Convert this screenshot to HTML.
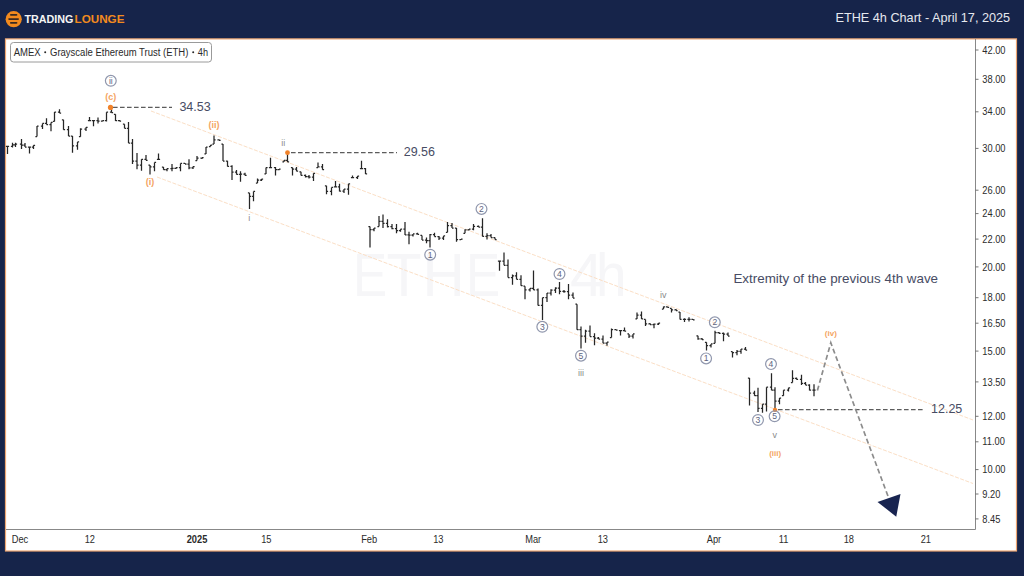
<!DOCTYPE html>
<html><head><meta charset="utf-8"><style>
html,body{margin:0;padding:0;}
body{width:1024px;height:576px;background:#16244a;position:relative;overflow:hidden;font-family:"Liberation Sans",sans-serif;}
svg{position:absolute;left:0;top:0;}
</style></head><body>
<svg width="1024" height="38" viewBox="0 0 1024 38">
  <circle cx="13.7" cy="19.2" r="8.1" fill="#f28a1e"/>
  <rect x="10" y="14.1" width="7.4" height="1.7" rx="0.8" fill="#3a2a22"/>
  <rect x="8.2" y="18.2" width="10.8" height="1.7" rx="0.8" fill="#3a2a22"/>
  <rect x="10" y="22" width="7.4" height="1.7" rx="0.8" fill="#3a2a22"/>
  <text x="24.5" y="22.8" font-size="10" font-weight="700" fill="#f4f4f4" textLength="49" lengthAdjust="spacingAndGlyphs">TRADING</text>
  <text x="74.5" y="22.8" font-size="10" font-weight="700" fill="#f28a1e" textLength="50" lengthAdjust="spacingAndGlyphs">LOUNGE</text>
  <text x="835.5" y="22.4" font-size="13" fill="#e6e9ef" textLength="174.6" lengthAdjust="spacingAndGlyphs">ETHE 4h Chart - April 17, 2025</text>
</svg>
<svg width="1024" height="576" viewBox="0 0 1024 576">
  <rect x="5.5" y="38.9" width="1011" height="512.1" fill="#fff" stroke="#eea672" stroke-width="1.2"/>
  <g font-size="61" fill="#f6f6f8">
    <text transform="translate(353,295.8) scale(0.84,1)">E</text>
    <text transform="translate(386.5,295.8) scale(0.94,1)">T</text>
    <text transform="translate(422.5,295.8) scale(0.96,1)">H</text>
    <text transform="translate(466,295.8) scale(0.84,1)">E</text>
    <text transform="translate(570,295.8) scale(0.98,1)">4</text>
    <text transform="translate(596,295.8) scale(0.9,1)">h</text>
  </g>
  <g stroke="#fbdfc6" stroke-width="1" stroke-dasharray="4 1.5" fill="none">
    <line x1="151" y1="111" x2="973" y2="420"/>
    <line x1="157" y1="177" x2="973" y2="483.5"/>
  </g>
  <rect x="10.5" y="42.5" width="201" height="19.5" rx="3" fill="#fff" stroke="#9a9a9a" stroke-width="1"/>
  <g font-size="10" fill="#2a2a2a">
    <text x="13.7" y="55.5" textLength="27" lengthAdjust="spacingAndGlyphs">AMEX</text>
    <circle cx="45.2" cy="52.3" r="1"/>
    <text x="50" y="55.5" textLength="138.4" lengthAdjust="spacingAndGlyphs">Grayscale Ethereum Trust (ETH)</text>
    <circle cx="193.2" cy="52.3" r="1"/>
    <text x="197.8" y="55.5" textLength="10.2" lengthAdjust="spacingAndGlyphs">4h</text>
  </g>
  <path d="M7.5 146.4V154.0M5.9 146.4H7.5M7.5 146.4H9.1M12.5 142.7V147.4M10.9 146.4H12.5M12.5 144.8H14.1M15.5 142.7V147.0M13.9 144.8H15.5M15.5 144.0H17.1M21.5 139.0V149.0M19.9 144.0H21.5M21.5 145.0H23.1M25.0 143.0V147.0M23.4 145.0H25.0M25.0 147.0H26.6M29.5 146.4V153.6M27.9 147.0H29.5M29.5 147.2H31.1M33.5 145.3V149.0M31.9 147.2H33.5M33.5 145.3H35.1M37.0 126.0V136.5M35.4 136.5H37.0M37.0 126.2H38.6M42.5 123.4V129.0M40.9 126.2H42.5M42.5 123.4H44.1M46.5 118.2V124.5M44.9 123.4H46.5M46.5 124.5H48.1M51.0 122.4V131.2M49.4 124.5H51.0M51.0 122.4H52.6M54.5 112.0V121.4M52.9 121.4H54.5M54.5 112.0H56.1M59.5 109.2V113.0M57.9 112.0H59.5M59.5 113.0H61.1M63.5 119.8V129.7M61.9 119.8H63.5M63.5 129.7H65.1M68.5 126.0V136.0M66.9 129.7H68.5M68.5 136.0H70.1M72.5 136.1V152.8M70.9 136.1H72.5M72.5 145.8H74.1M77.5 141.9V149.7M75.9 145.8H77.5M77.5 141.9H79.1M80.5 128.3V136.7M78.9 136.7H80.5M80.5 129.2H82.1M86.0 127.3V131.0M84.4 129.2H86.0M86.0 127.3H87.6M89.5 116.9V120.5M87.9 120.5H89.5M89.5 120.5H91.1M93.5 120.0V126.2M91.9 120.5H93.5M93.5 120.5H95.1M98.0 117.4V123.6M96.4 120.5H98.0M98.0 121.0H99.6M102.5 120.5V121.6M100.9 121.0H102.5M102.5 120.5H104.1M106.5 112.2V121.6M104.9 120.5H106.5M106.5 112.2H108.1M111.5 108.0V112.7M109.9 112.2H111.5M111.5 112.7H113.1M115.5 114.3V121.0M113.9 114.3H115.5M115.5 120.5H117.1M119.5 120.0V121.0M117.9 120.5H119.5M119.5 121.0H121.1M124.5 124.2V128.3M122.9 124.2H124.5M124.5 128.3H126.1M128.5 122.0V143.0M126.9 128.3H128.5M128.5 143.0H130.1M132.5 138.9V164.0M130.9 143.0H132.5M132.5 161.1H134.1M137.0 153.0V169.2M135.4 161.1H137.0M137.0 165.0H138.6M141.5 159.3V170.7M139.9 165.0H141.5M141.5 159.3H143.1M146.0 155.1V160.3M144.4 159.3H146.0M146.0 160.3H147.6M150.0 165.0V174.4M148.4 165.0H150.0M150.0 166.8H151.6M154.5 162.4V171.2M152.9 166.8H154.5M154.5 162.4H156.1M158.5 153.5V159.3M156.9 159.3H158.5M158.5 159.3H160.1M163.5 167.0V169.7M161.9 167.0H163.5M163.5 169.7H165.1M167.0 168.6V171.2M165.4 169.7H167.0M167.0 168.6H168.6M172.0 164.0V171.2M170.4 168.6H172.0M172.0 168.3H173.6M176.0 167.6V169.0M174.4 168.3H176.0M176.0 167.6H177.6M180.5 163.4V171.2M178.9 167.6H180.5M180.5 163.4H182.1M185.0 162.9V164.0M183.4 163.4H185.0M185.0 164.0H186.6M189.0 159.3V169.2M187.4 164.0H189.0M189.0 167.8H190.6M193.0 166.5V169.0M191.4 167.8H193.0M193.0 166.5H194.6M197.0 155.9V160.6M195.4 160.6H197.0M197.0 158.2H198.6M202.0 157.5V159.0M200.4 158.2H202.0M202.0 157.5H203.6M206.0 147.0V153.9M204.4 153.9H206.0M206.0 147.0H207.6M210.5 145.0V146.6M208.9 146.6H210.5M210.5 145.0H212.1M214.0 135.6V144.0M212.4 144.0H214.0M214.0 139.8H215.6M219.0 139.3V140.3M217.4 139.8H219.0M219.0 140.3H220.6M223.0 144.0V161.1M221.4 144.0H223.0M223.0 161.1H224.6M227.5 160.8V166.4M225.9 161.1H227.5M227.5 166.4H229.1M232.0 165.3V180.1M230.4 166.4H232.0M232.0 172.2H233.6M236.5 170.0V174.4M234.9 172.2H236.5M236.5 174.4H238.1M240.5 171.2V181.7M238.9 174.4H240.5M240.5 174.1H242.1M245.0 172.8V175.4M243.4 174.1H245.0M245.0 175.4H246.6M249.5 192.9V209.0M247.9 192.9H249.5M249.5 196.3H251.1M253.5 191.4V201.2M251.9 196.3H253.5M253.5 191.4H255.1M257.5 178.5V183.0M255.9 183.0H257.5M257.5 180.0H259.1M261.5 179.0V181.0M259.9 180.0H261.5M261.5 179.0H263.1M266.0 167.6V173.9M264.4 173.9H266.0M266.0 167.6H267.6M270.5 157.7V167.6M268.9 167.6H270.5M270.5 167.6H272.1M275.5 167.0V175.4M273.9 167.6H275.5M275.5 169.7H277.1M279.0 169.2V170.2M277.4 169.7H279.0M279.0 169.2H280.6M284.0 160.3V161.9M282.4 161.9H284.0M284.0 160.3H285.6M287.5 153.0V161.9M285.9 160.3H287.5M287.5 161.9H289.1M292.5 167.6V175.4M290.9 167.6H292.5M292.5 169.1H294.1M296.5 167.0V171.2M294.9 169.1H296.5M296.5 171.2H298.1M301.0 171.8V175.4M299.4 171.8H301.0M301.0 175.4H302.6M305.5 174.4V177.5M303.9 175.4H305.5M305.5 176.7H307.1M309.0 174.9V178.5M307.4 176.7H309.0M309.0 177.2H310.6M313.5 173.3V181.1M311.9 177.2H313.5M313.5 173.3H315.1M318.0 162.4V167.6M316.4 167.6H318.0M318.0 166.8H319.6M322.5 164.0V169.7M320.9 166.8H322.5M322.5 169.7H324.1M326.5 185.8V194.2M324.9 185.8H326.5M326.5 191.3H328.1M331.5 187.4V195.2M329.9 191.3H331.5M331.5 187.4H333.1M335.5 181.1V186.9M333.9 186.9H335.5M335.5 186.9H337.1M339.5 183.8V191.6M337.9 186.9H339.5M339.5 191.1H341.1M344.0 189.0V193.1M342.4 191.1H344.0M344.0 189.2H345.6M348.5 183.8V194.7M346.9 189.2H348.5M348.5 183.8H350.1M352.5 175.4V177.5M350.9 177.5H352.5M352.5 177.5H354.1M357.5 176.0V179.0M355.9 177.5H357.5M357.5 176.0H359.1M361.5 160.8V168.6M359.9 168.6H361.5M361.5 168.6H363.1M365.5 168.1V173.9M363.9 168.6H365.5M365.5 173.9H367.1M370.0 226.6V247.4M368.4 226.6H370.0M370.0 229.7H371.6M374.0 228.1V231.2M372.4 229.7H374.0M374.0 228.1H375.6M379.0 216.1V226.6M377.4 226.6H379.0M379.0 221.3H380.6M383.0 214.6V228.1M381.4 221.3H383.0M383.0 223.4H384.6M387.5 219.3V227.6M385.9 223.4H387.5M387.5 226.6H389.1M392.0 224.0V229.2M390.4 226.6H392.0M392.0 228.7H393.6M396.5 224.0V233.3M394.9 228.7H396.5M396.5 230.5H398.1M400.5 229.2V231.8M398.9 230.5H400.5M400.5 229.2H402.1M405.0 221.9V234.9M403.4 229.2H405.0M405.0 234.9H406.6M409.0 231.8V244.3M407.4 234.9H409.0M409.0 235.2H410.6M413.0 233.9V236.5M411.4 235.2H413.0M413.0 233.9H414.6M417.5 232.8V234.4M415.9 233.9H417.5M417.5 234.4H419.1M422.0 235.4V240.1M420.4 235.4H422.0M422.0 240.1H423.6M426.5 237.5V243.2M424.9 240.1H426.5M426.5 240.7H428.1M430.0 233.9V247.4M428.4 240.7H430.0M430.0 234.7H431.6M434.5 232.8V236.5M432.9 234.7H434.5M434.5 236.5H436.1M439.0 235.9V240.1M437.4 236.5H439.0M439.0 238.0H440.6M443.5 235.9V240.1M441.9 238.0H443.5M443.5 235.9H445.1M447.5 221.9V232.3M445.9 232.3H447.5M447.5 225.5H449.1M452.0 222.9V228.1M450.4 225.5H452.0M452.0 228.1H453.6M456.5 228.1V241.7M454.9 228.1H456.5M456.5 239.6H458.1M461.0 239.0V240.1M459.4 239.6H461.0M461.0 239.0H462.6M465.0 229.2V233.3M463.4 233.3H465.0M465.0 229.8H466.6M469.0 229.0V230.5M467.4 229.8H469.0M469.0 229.0H470.6M473.5 224.0V230.2M471.9 229.0H473.5M473.5 226.3H475.1M478.5 225.5V227.1M476.9 226.3H478.5M478.5 227.1H480.1M482.5 218.2V236.5M480.9 227.1H482.5M482.5 236.4H484.1M487.0 233.3V239.6M485.4 236.4H487.0M487.0 235.7H488.6M491.0 233.9V237.5M489.4 235.7H491.0M491.0 237.5H492.6M495.0 237.5V239.6M493.4 237.5H495.0M495.0 239.6H496.6M499.5 261.0V270.7M497.9 261.0H499.5M499.5 261.0H501.1M504.0 252.6V265.3M502.4 261.0H504.0M504.0 265.3H505.6M508.0 259.5V277.5M506.4 265.3H508.0M508.0 277.5H509.6M512.5 274.4V284.7M510.9 277.5H512.5M512.5 275.8H514.1M516.5 272.3V279.3M514.9 275.8H516.5M516.5 279.3H518.1M521.0 275.2V285.7M519.4 279.3H521.0M521.0 285.7H522.6M525.0 286.2V299.3M523.4 286.2H525.0M525.0 289.9H526.6M530.0 288.3V291.5M528.4 289.9H530.0M530.0 288.3H531.6M533.5 270.5V289.9M531.9 288.3H533.5M533.5 289.9H535.1M538.0 288.5V305.4M536.4 289.9H538.0M538.0 305.4H539.6M542.5 297.7V320.0M540.9 305.4H542.5M542.5 297.7H544.1M547.0 293.0V301.9M545.4 297.7H547.0M547.0 293.0H548.6M551.0 289.3V295.6M549.4 293.0H551.0M551.0 290.1H552.6M555.5 287.2V293.0M553.9 290.1H555.5M555.5 288.1H557.1M559.5 282.0V294.3M557.9 288.1H559.5M559.5 291.4H561.1M564.0 290.0V292.7M562.4 291.4H564.0M564.0 291.6H565.6M568.5 284.0V299.2M566.9 291.6H568.5M568.5 295.2H570.1M573.0 292.4V298.1M571.4 295.2H573.0M573.0 298.1H574.6M577.0 304.2V329.7M575.4 304.2H577.0M577.0 329.7H578.6M581.0 326.6V348.4M579.4 329.7H581.0M581.0 336.2H582.6M585.5 329.7V342.7M583.9 336.2H585.5M585.5 331.0H587.1M590.0 325.5V336.5M588.4 331.0H590.0M590.0 336.5H591.6M594.5 333.3V345.3M592.9 336.5H594.5M594.5 338.0H596.1M598.5 337.0V339.0M596.9 338.0H598.5M598.5 339.0H600.1M603.0 335.4V343.2M601.4 339.0H603.0M603.0 343.2H604.6M607.0 342.2V345.8M605.4 343.2H607.0M607.0 342.2H608.6M611.5 328.6V337.5M609.9 337.5H611.5M611.5 329.7H613.1M616.0 329.2V330.2M614.4 329.7H616.0M616.0 330.2H617.6M620.5 330.7V335.4M618.9 330.7H620.5M620.5 330.7H622.1M624.5 327.6V331.2M622.9 330.7H624.5M624.5 331.2H626.1M629.0 333.9V338.0M627.4 333.9H629.0M629.0 336.2H630.6M633.0 333.9V338.6M631.4 336.2H633.0M633.0 333.9H634.6M637.0 312.5V318.9M635.4 318.9H637.0M637.0 315.2H638.6M641.5 311.6V318.9M639.9 315.2H641.5M641.5 318.9H643.1M645.5 319.4V326.1M643.9 319.4H645.5M645.5 323.8H647.1M650.0 323.0V324.6M648.4 323.8H650.0M650.0 324.6H651.6M654.0 323.5V328.2M652.4 324.6H654.0M654.0 324.1H655.6M658.5 323.0V325.1M656.9 324.1H658.5M658.5 323.0H660.1M663.5 306.4V309.0M661.9 309.0H663.5M663.5 306.9H665.1M667.5 306.4V307.4M665.9 306.9H667.5M667.5 307.4H669.1M671.5 308.4V312.6M669.9 308.4H671.5M671.5 309.8H673.1M676.0 309.0V310.5M674.4 309.8H676.0M676.0 310.5H677.6M680.0 312.0V319.4M678.4 312.0H680.0M680.0 319.4H681.6M684.5 318.3V322.0M682.9 319.4H684.5M684.5 319.4H686.1M689.0 317.3V321.5M687.4 319.4H689.0M689.0 319.4H690.6M693.0 318.9V319.9M691.4 319.4H693.0M693.0 319.9H694.6M698.0 335.8V339.7M696.4 335.8H698.0M698.0 338.9H699.6M702.0 338.1V339.7M700.4 338.9H702.0M702.0 339.7H703.6M706.5 342.3V350.6M704.9 342.3H706.5M706.5 345.7H708.1M711.0 343.9V347.5M709.4 345.7H711.0M711.0 343.9H712.6M715.0 330.8V343.3M713.4 343.3H715.0M715.0 332.6H716.6M719.0 331.9V333.4M717.4 332.6H719.0M719.0 333.4H720.6M723.5 332.4V341.2M721.9 333.4H723.5M723.5 334.2H725.1M728.0 332.4V336.0M726.4 334.2H728.0M728.0 336.0H729.6M732.5 351.7V357.4M730.9 351.7H732.5M732.5 352.7H734.1M737.0 350.1V355.3M735.4 352.7H737.0M737.0 351.4H738.6M741.0 349.0V353.8M739.4 351.4H741.0M741.0 349.0H742.6M745.5 347.0V350.1M743.9 349.0H745.5M745.5 350.1H747.1M749.5 378.1V405.4M747.9 378.1H749.5M749.5 393.2H751.1M754.5 390.8V395.7M752.9 393.2H754.5M754.5 395.7H756.1M758.0 387.8V412.1M756.4 395.7H758.0M758.0 408.4H759.6M762.5 404.2V412.7M760.9 408.4H762.5M762.5 404.2H764.1M766.5 387.2V411.5M764.9 404.2H766.5M766.5 387.2H768.1M771.5 373.2V390.2M769.9 387.2H771.5M771.5 390.2H773.1M775.0 387.2V409.0M773.4 390.2H775.0M775.0 401.1H776.6M779.5 398.1V404.2M777.9 401.1H779.5M779.5 398.1H781.1M783.5 390.2V395.7M781.9 395.7H783.5M783.5 390.2H785.1M788.5 387.8V391.5M786.9 390.2H788.5M788.5 387.8H790.1M792.5 370.2V382.5M790.9 382.5H792.5M792.5 378.4H794.1M796.5 377.5V379.4M794.9 378.4H796.5M796.5 379.4H798.1M801.5 374.8V385.0M799.9 379.4H801.5M801.5 383.4H803.1M805.5 381.9V385.0M803.9 383.4H805.5M805.5 385.0H807.1M809.5 384.2V390.5M807.9 385.0H809.5M809.5 390.2H811.1M814.0 384.2V396.3M812.4 390.2H814.0M814.0 390.2H815.6" stroke="#262626" stroke-width="1.25" fill="none"/>
  <g stroke="#5c5c5c" stroke-width="1.2" stroke-dasharray="4.6 2.4" fill="none">
    <line x1="113" y1="107.3" x2="172" y2="107.3"/>
    <line x1="291" y1="152.7" x2="397" y2="152.7"/>
    <line x1="778" y1="409.7" x2="923" y2="409.7"/>
  </g>
  <g stroke="#8c8c8c" stroke-width="1.7" stroke-dasharray="5 3" fill="none">
    <polyline points="817.4,390.5 830.8,342.8 888.4,497.2"/>
  </g>
  <polygon points="877.5,501.9 900.5,494.1 896.25,516.7" fill="#182450"/>
  <g fill="#f0822a">
    <circle cx="110.5" cy="107.4" r="2.6"/>
    <circle cx="287.5" cy="152.7" r="2.4"/>
    <circle cx="775" cy="409.9" r="2.2"/>
  </g>
  <g font-size="12.5" fill="#474c64">
    <text x="179.4" y="110.8">34.53</text>
    <text x="403.7" y="155.6">29.56</text>
    <text x="931" y="412.9">12.25</text>
    <text x="733.4" y="283.0" font-size="13.4">Extremity of the previous 4th wave</text>
  </g>
  <g font-size="9" font-weight="700" fill="#f4a462" text-anchor="middle">
    <text x="110.8" y="100.3">(c)</text>
    <text x="214" y="128.3">(ii)</text>
    <text x="150" y="185">(i)</text>
    <text x="775.2" y="455.5" font-size="8">(iii)</text>
    <text x="830.8" y="335.8" font-size="8">(iv)</text>
  </g>
  <g font-size="9" fill="#8a8a8a" text-anchor="middle">
    <text x="283.3" y="145.8">ii</text>
    <text x="249.3" y="221">i</text>
    <text x="581" y="376">iii</text>
    <text x="663.3" y="298">iv</text>
    <text x="774.8" y="437.8">v</text>
  </g>
  <g><circle cx="110.8" cy="80.8" r="5.4" fill="none" stroke="#9097ad" stroke-width="1.2"/><text x="110.8" y="83.7" text-anchor="middle" font-size="8.6" fill="#5d6480">ii</text></g>
  <g><circle cx="430.2" cy="254.7" r="5.4" fill="none" stroke="#9097ad" stroke-width="1.2"/><text x="430.2" y="257.59999999999997" text-anchor="middle" font-size="8.6" fill="#5d6480">1</text></g>
  <g><circle cx="481.5" cy="208.9" r="5.4" fill="none" stroke="#9097ad" stroke-width="1.2"/><text x="481.5" y="211.8" text-anchor="middle" font-size="8.6" fill="#5d6480">2</text></g>
  <g><circle cx="542.3" cy="326.8" r="5.4" fill="none" stroke="#9097ad" stroke-width="1.2"/><text x="542.3" y="329.7" text-anchor="middle" font-size="8.6" fill="#5d6480">3</text></g>
  <g><circle cx="559.5" cy="274" r="5.4" fill="none" stroke="#9097ad" stroke-width="1.2"/><text x="559.5" y="276.9" text-anchor="middle" font-size="8.6" fill="#5d6480">4</text></g>
  <g><circle cx="581" cy="355.7" r="5.4" fill="none" stroke="#9097ad" stroke-width="1.2"/><text x="581" y="358.59999999999997" text-anchor="middle" font-size="8.6" fill="#5d6480">5</text></g>
  <g><circle cx="714.8" cy="322.3" r="5.4" fill="none" stroke="#9097ad" stroke-width="1.2"/><text x="714.8" y="325.2" text-anchor="middle" font-size="8.6" fill="#5d6480">2</text></g>
  <g><circle cx="706.1" cy="358.4" r="5.4" fill="none" stroke="#9097ad" stroke-width="1.2"/><text x="706.1" y="361.29999999999995" text-anchor="middle" font-size="8.6" fill="#5d6480">1</text></g>
  <g><circle cx="771" cy="364.1" r="5.4" fill="none" stroke="#9097ad" stroke-width="1.2"/><text x="771" y="367.0" text-anchor="middle" font-size="8.6" fill="#5d6480">4</text></g>
  <g><circle cx="758" cy="420" r="5.4" fill="none" stroke="#9097ad" stroke-width="1.2"/><text x="758" y="422.9" text-anchor="middle" font-size="8.6" fill="#5d6480">3</text></g>
  <g><circle cx="774.6" cy="416.3" r="5.4" fill="none" stroke="#9097ad" stroke-width="1.2"/><text x="774.6" y="419.2" text-anchor="middle" font-size="8.6" fill="#5d6480">5</text></g>
  <g stroke="#888" stroke-width="1" fill="none">
    <line x1="975.5" y1="39" x2="975.5" y2="529.5"/>
    <line x1="6" y1="529.5" x2="975.5" y2="529.5"/>
  </g>
  <g stroke="#777" stroke-width="1"><line x1="975" y1="50.0" x2="978.5" y2="50.0"/><line x1="975" y1="79.3" x2="978.5" y2="79.3"/><line x1="975" y1="111.8" x2="978.5" y2="111.8"/><line x1="975" y1="148.4" x2="978.5" y2="148.4"/><line x1="975" y1="190.2" x2="978.5" y2="190.2"/><line x1="975" y1="213.6" x2="978.5" y2="213.6"/><line x1="975" y1="239.1" x2="978.5" y2="239.1"/><line x1="975" y1="266.9" x2="978.5" y2="266.9"/><line x1="975" y1="297.7" x2="978.5" y2="297.7"/><line x1="975" y1="323.2" x2="978.5" y2="323.2"/><line x1="975" y1="351.1" x2="978.5" y2="351.1"/><line x1="975" y1="381.9" x2="978.5" y2="381.9"/><line x1="975" y1="416.3" x2="978.5" y2="416.3"/><line x1="975" y1="441.8" x2="978.5" y2="441.8"/><line x1="975" y1="469.6" x2="978.5" y2="469.6"/><line x1="975" y1="494.0" x2="978.5" y2="494.0"/><line x1="975" y1="518.9" x2="978.5" y2="518.9"/></g>
  <g font-size="10" fill="#2b2b2b"><text transform="translate(982.3,53.6) scale(0.93,1)">42.00</text><text transform="translate(982.3,82.9) scale(0.93,1)">38.00</text><text transform="translate(982.3,115.4) scale(0.93,1)">34.00</text><text transform="translate(982.3,152.0) scale(0.93,1)">30.00</text><text transform="translate(982.3,193.8) scale(0.93,1)">26.00</text><text transform="translate(982.3,217.2) scale(0.93,1)">24.00</text><text transform="translate(982.3,242.7) scale(0.93,1)">22.00</text><text transform="translate(982.3,270.5) scale(0.93,1)">20.00</text><text transform="translate(982.3,301.3) scale(0.93,1)">18.00</text><text transform="translate(982.3,326.8) scale(0.93,1)">16.50</text><text transform="translate(982.3,354.7) scale(0.93,1)">15.00</text><text transform="translate(982.3,385.5) scale(0.93,1)">13.50</text><text transform="translate(982.3,419.9) scale(0.93,1)">12.00</text><text transform="translate(982.3,445.4) scale(0.93,1)">11.00</text><text transform="translate(982.3,473.2) scale(0.93,1)">10.00</text><text transform="translate(982.3,497.6) scale(0.93,1)">9.20</text><text transform="translate(982.3,522.5) scale(0.93,1)">8.45</text></g>
  <g font-size="10" fill="#2b2b2b"><text transform="translate(11.7,542.9) scale(0.93,1)" font-weight="400">Dec</text><text transform="translate(84.7,542.9) scale(0.93,1)" font-weight="400">12</text><text transform="translate(186.7,542.9) scale(0.93,1)" font-weight="700">2025</text><text transform="translate(261.2,542.9) scale(0.93,1)" font-weight="400">15</text><text transform="translate(361.2,542.9) scale(0.93,1)" font-weight="400">Feb</text><text transform="translate(433.2,542.9) scale(0.93,1)" font-weight="400">13</text><text transform="translate(525.2,542.9) scale(0.93,1)" font-weight="400">Mar</text><text transform="translate(597.7,542.9) scale(0.93,1)" font-weight="400">13</text><text transform="translate(706.7,542.9) scale(0.93,1)" font-weight="400">Apr</text><text transform="translate(778.7,542.9) scale(0.93,1)" font-weight="400">11</text><text transform="translate(843.7,542.9) scale(0.93,1)" font-weight="400">18</text><text transform="translate(920.7,542.9) scale(0.93,1)" font-weight="400">21</text></g>
</svg>
</body></html>
